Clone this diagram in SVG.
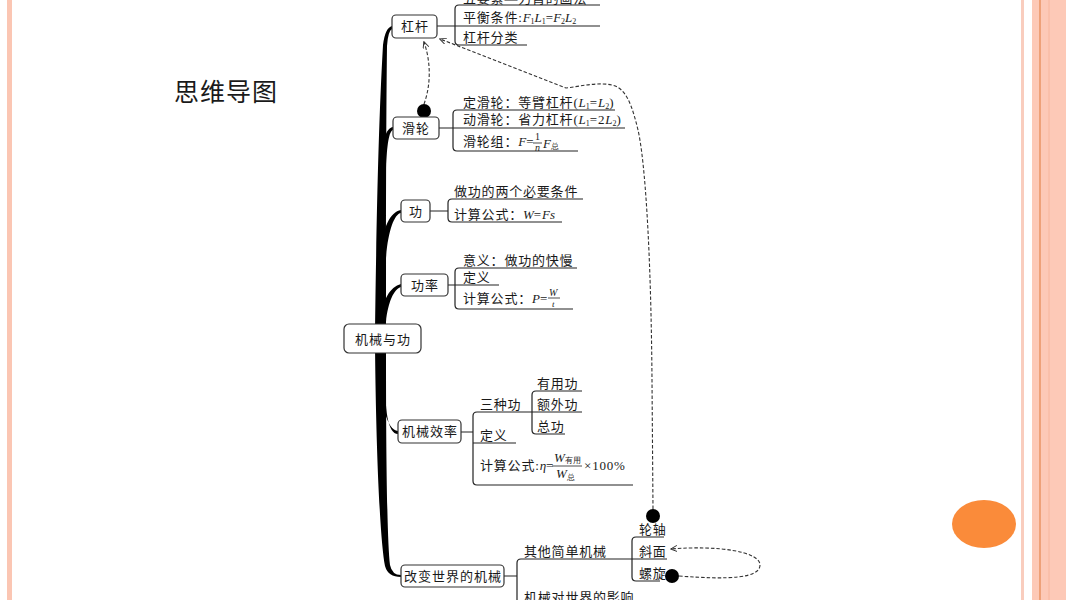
<svg xmlns="http://www.w3.org/2000/svg" width="1066" height="600" viewBox="0 0 1066 600">
<style>
text{font-family:"Liberation Serif","Noto Sans CJK SC",serif;font-size:13px;fill:#1a1a1a;letter-spacing:0.8px}
.n{font-size:13px;letter-spacing:1px;text-anchor:middle}
.v{font-style:italic;font-family:"Liberation Serif",serif;letter-spacing:0}
.s{font-size:8px;font-family:"Liberation Serif",serif;letter-spacing:0}
.box{fill:#fff;stroke:#333;stroke-width:1.2}
.ln{fill:none;stroke:#222;stroke-width:1.2}
.tr{fill:#000}
.dash{fill:none;stroke:#333;stroke-width:1.1;stroke-dasharray:3.5 2}
.dot{fill:#000}
.bar{stroke:#222;stroke-width:0.8}
</style>
<defs>
<marker id="ar" viewBox="0 0 8 8" refX="7" refY="4" markerWidth="7" markerHeight="7" orient="auto" markerUnits="userSpaceOnUse">
<path d="M0,0.5 L7.5,4 L0,7.5" fill="none" stroke="#333" stroke-width="1.1"/>
</marker>
</defs>
<rect width="1066" height="600" fill="#fff"/>
<g id="decor">
<rect x="7" y="0" width="5" height="600" fill="#FBC6B3"/>
<rect x="1021" y="0" width="3" height="600" fill="#F9CDBE"/>
<rect x="1032" y="0" width="34" height="600" fill="#FDC9B7"/>
<line x1="1040" y1="0" x2="1040" y2="600" stroke="#E5874F" stroke-width="1.2"/>
<line x1="1049" y1="0" x2="1049" y2="600" stroke="#F7B69D" stroke-width="1"/>
<ellipse cx="984" cy="524" rx="32" ry="24" fill="#FA8B3A"/>
</g>
<text id="title" x="174" y="101" style="font-family:'Noto Sans CJK SC',sans-serif;font-size:25px;letter-spacing:1px">思维导图</text>
<g id="connectors">
<path class="tr" d="M375,335 C376,250 378,130 383,45 Q385,28 392,26 L392,29 Q388,31 387,46 C386,130 386,250 386,335 Z"/>
<path class="tr" d="M375,345 C376,450 380,540 385,566 Q388,577 401,577 L401,575 Q392,575 390,565 C387,540 386,450 386,345 Z"/>
<path class="tr" d="M381,168 C382,140 386,128 393,127 L393,130 C389,131 387,145 386,168 Z"/>
<path class="tr" d="M380,258 C382,228 390,212 401,210 L401,213 C394,214 388,232 386,258 Z"/>
<path class="tr" d="M380,322 C382,300 390,287 401,284 L401,287 C394,289 388,302 386,322 Z"/>
<path class="tr" d="M380,372 C381,405 387,430 398,431 L398,434 C388,434 384,410 386,372 Z"/>
<path class="ln" d="M600,5 L459,5 Q455,5 455,9 L455,41 Q455,45 459,45 L527,45 M437,26 L600,26"/>
<path class="ln" d="M615,110 L457,110 Q453,110 453,114 L453,147 Q453,151 457,151 L578,151 M439,128 L625,128"/>
<path class="ln" d="M583,199 L452,199 Q448,199 448,203 L448,218 Q448,222 452,222 L562,222 M430,211 L448,211"/>
<path class="ln" d="M577,268 L459,268 Q455,268 455,272 L455,305 Q455,309 459,309 L573,309 M448,285 L499,285"/>
<path class="ln" d="M582,412 L477,412 Q473,412 473,416 L473,481 Q473,485 477,485 L633,485 M461,432 L473,432 M473,443 L516,443"/>
<path class="ln" d="M582,391 L536,391 Q532,391 532,395 L532,430 Q532,434 536,434 L565,434"/>
<path class="ln" d="M667,559 L521,559 Q517,559 517,563 L517,600 M504,576 L517,576"/>
<path class="ln" d="M664,537 L636,537 Q632,537 632,541 L632,577 Q632,581 636,581 L660,581"/>
<path class="dash" marker-end="url(#ar)" d="M424,104 C431,85 431,62 424,42"/>
<path class="dash" marker-end="url(#ar)" d="M653,509 L652,380 C651,250 645,160 638,130 C632,105 626,88 612,85 C598,82 582,86 566,88 L440,39"/>
<path class="dash" marker-end="url(#ar)" d="M679,576 C730,580 760,578 760,565 C760,552 720,545 671,549"/>
<circle class="dot" cx="424" cy="111" r="7"/>
<circle class="dot" cx="653" cy="516" r="7"/>
<circle class="dot" cx="672" cy="576" r="7"/>
</g>
<g id="root"><rect class="box" x="344" y="324" width="77" height="29" rx="5"/><text class="n" x="383" y="344">机械与功</text></g>
<g id="n-lever"><rect class="box" x="392" y="15" width="45" height="23" rx="4"/><text class="n" x="415" y="31">杠杆</text></g>
<g id="n-pulley"><rect class="box" x="393" y="117" width="46" height="22" rx="4"/><text class="n" x="416" y="133">滑轮</text></g>
<g id="n-work"><rect class="box" x="401" y="200" width="29" height="22" rx="4"/><text class="n" x="416" y="216">功</text></g>
<g id="n-power"><rect class="box" x="401" y="274" width="47" height="22" rx="4"/><text class="n" x="425" y="290">功率</text></g>
<g id="n-eff"><rect class="box" x="398" y="420" width="63" height="23" rx="4"/><text class="n" x="430" y="436">机械效率</text></g>
<g id="n-change"><rect class="box" x="401" y="565" width="103" height="22" rx="4"/><text class="n" x="453" y="581">改变世界的机械</text></g>
<g id="lever-items">
<text x="463" y="3">五要素—力臂的画法</text>
<text x="463" y="22">平衡条件:<tspan class="v">F</tspan><tspan class="s" dy="2">1</tspan><tspan class="v" dy="-2">L</tspan><tspan class="s" dy="2">1</tspan><tspan dy="-2" class="v" style="font-style:normal">=</tspan><tspan class="v">F</tspan><tspan class="s" dy="2">2</tspan><tspan class="v" dy="-2">L</tspan><tspan class="s" dy="2">2</tspan></text>
<text x="463" y="42">杠杆分类</text>
</g>
<g id="pulley-items">
<text x="463" y="107">定滑轮：等臂杠杆(<tspan class="v">L</tspan><tspan class="s" dy="2">1</tspan><tspan dy="-2">=</tspan><tspan class="v">L</tspan><tspan class="s" dy="2">2</tspan><tspan dy="-2">)</tspan></text>
<text x="463" y="124">动滑轮：省力杠杆(<tspan class="v">L</tspan><tspan class="s" dy="2">1</tspan><tspan dy="-2">=2</tspan><tspan class="v">L</tspan><tspan class="s" dy="2">2</tspan><tspan dy="-2">)</tspan></text>
<text x="463" y="146">滑轮组：<tspan class="v">F</tspan>=</text>
<text x="535" y="140" style="font-size:10px">1</text>
<line class="bar" x1="533" y1="143" x2="542" y2="143"/>
<text x="535" y="151" class="v" style="font-size:10px">n</text>
<text x="543" y="148"><tspan class="v">F</tspan><tspan class="s" dy="1">总</tspan></text>
</g>
<g id="work-items">
<text x="454" y="196">做功的两个必要条件</text>
<text x="454" y="219">计算公式：<tspan class="v">W</tspan>=<tspan class="v">Fs</tspan></text>
</g>
<g id="power-items">
<text x="463" y="265">意义：做功的快慢</text>
<text x="463" y="282">定义</text>
<text x="463" y="303">计算公式：<tspan class="v">P</tspan>=</text>
<text x="549" y="296" class="v" style="font-size:10px">W</text>
<line class="bar" x1="548" y1="298" x2="560" y2="298"/>
<text x="552" y="307" class="v" style="font-size:9px">t</text>
</g>
<g id="eff-items">
<text x="480" y="409">三种功</text>
<text x="537" y="388">有用功</text>
<text x="537" y="409">额外功</text>
<text x="537" y="431">总功</text>
<text x="480" y="440">定义</text>
<text x="480" y="470">计算公式:<tspan class="v">η</tspan>=</text>
<text x="554" y="462"><tspan class="v">W</tspan><tspan class="s" dy="1">有用</tspan></text>
<line class="bar" x1="552" y1="466" x2="582" y2="466"/>
<text x="556" y="478"><tspan class="v">W</tspan><tspan class="s" dy="2">总</tspan></text>
<text x="584" y="470">×100%</text>
</g>
<g id="change-items">
<text x="524" y="556">其他简单机械</text>
<text x="639" y="534">轮轴</text>
<text x="639" y="556">斜面</text>
<text x="639" y="578">螺旋</text>
<text x="524" y="602">机械对世界的影响</text>
</g>
</svg>
